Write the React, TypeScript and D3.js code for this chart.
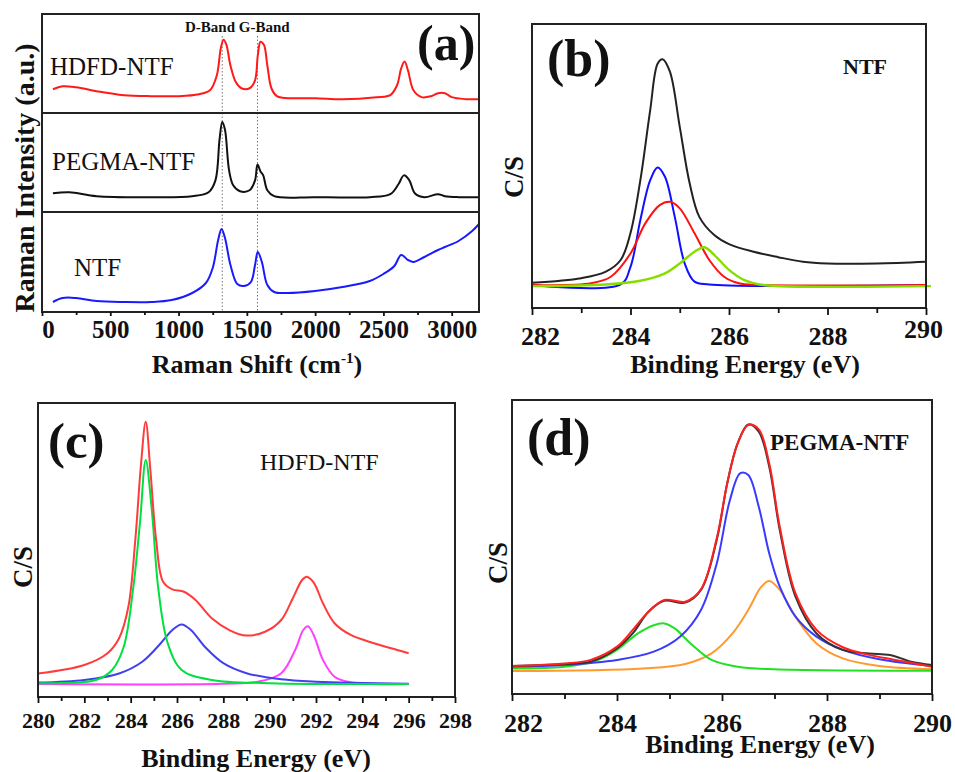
import React, { useEffect, useRef } from 'react';
import * as d3 from 'd3';

type Pt = [number, number];

const W = 955;
const H = 772;
const FONT = '"Liberation Serif", "Times New Roman", Times, serif';

// (a) Raman spectra: [Raman shift cm-1, intensity 0-100 inside its own strip]
const ramanTicks = [0, 500, 1000, 1500, 2000, 2500, 3000];
const ramanMinorTicks = [250, 750, 1250, 1750, 2250, 2750];
const bandLines = [1320, 1578];

const ramanHDFD: Pt[] = [
  [80, 24], [150, 27], [250, 26], [400, 22], [600, 18], [800, 17], [1000, 17], [1150, 19],
  [1230, 23], [1280, 38], [1310, 66], [1330, 74], [1350, 69], [1380, 48], [1420, 31],
  [1460, 25], [1520, 25], [1560, 33], [1580, 58], [1600, 72], [1625, 69], [1650, 48],
  [1680, 25], [1720, 17], [1800, 15], [2000, 15], [2200, 14], [2450, 16], [2550, 18],
  [2600, 28], [2630, 45], [2655, 52], [2680, 43], [2720, 23], [2780, 16], [2850, 17],
  [2900, 20], [2950, 20], [3000, 16], [3100, 14], [3200, 14],
];

const ramanPEGMA: Pt[] = [
  [80, 19], [200, 20], [400, 16], [800, 15], [1100, 16], [1220, 20], [1270, 32], [1300, 73],
  [1320, 91], [1340, 83], [1370, 42], [1400, 27], [1450, 21], [1520, 22], [1560, 32],
  [1578, 48], [1600, 41], [1620, 37], [1650, 22], [1700, 16], [2000, 15], [2400, 15],
  [2550, 18], [2610, 28], [2650, 37], [2690, 32], [2730, 19], [2800, 15], [2900, 18],
  [2950, 16], [3050, 15], [3200, 15],
];

const ramanNTF: Pt[] = [
  [80, 10], [150, 14], [250, 14], [400, 11], [600, 10], [800, 10], [950, 12], [1100, 19],
  [1200, 29], [1250, 44], [1290, 72], [1315, 83], [1340, 74], [1380, 47], [1430, 28],
  [1480, 26], [1530, 30], [1560, 47], [1580, 60], [1610, 50], [1650, 27], [1700, 20],
  [1800, 19], [2000, 21], [2200, 25], [2400, 31], [2500, 38], [2580, 46], [2630, 57],
  [2680, 52], [2720, 50], [2800, 55], [2900, 62], [2950, 65], [3050, 71], [3150, 81],
  [3200, 88],
];

// (b) NTF C1s: [binding energy eV, counts 0-100]
const ntfTicks = [282, 284, 286, 288, 290];
const ntfMinorTicks = [283, 285, 287, 289];

const ntfTotal: Pt[] = [
  [282, 8.9], [283, 10.5], [283.5, 12.8], [283.8, 16.9], [284.0, 26.4], [284.2, 45],
  [284.4, 69.7], [284.55, 86], [284.65, 87.6], [284.8, 83.2], [285.0, 63.8], [285.2, 44],
  [285.4, 32], [285.7, 25.7], [286.0, 22.5], [286.5, 19.8], [287.0, 17.9], [287.5, 16.3],
  [288, 15.7], [289, 15.7], [290, 16.3],
];
const ntfBlue: Pt[] = [
  [282, 8.1], [283.8, 8.3], [284.0, 14.5], [284.2, 31], [284.4, 45], [284.55, 49.5],
  [284.7, 46.2], [284.9, 32], [285.1, 15.7], [285.3, 9.3], [285.6, 8.3], [290, 8.1],
];
const ntfRed: Pt[] = [
  [282, 8.1], [283.2, 8.7], [283.6, 11], [284.0, 19.2], [284.3, 29.8], [284.6, 36.3],
  [284.8, 37.4], [285.0, 35.1], [285.3, 26.3], [285.6, 16.9], [285.9, 11], [286.2, 8.7],
  [286.6, 8.1], [290, 8.1],
];
const ntfGreen: Pt[] = [
  [282, 7.7], [283.5, 8.3], [284.2, 9.6], [284.7, 12.2], [285.0, 15.7], [285.3, 19.8],
  [285.5, 21.4], [285.7, 18.7], [286.0, 13.4], [286.3, 9.9], [286.7, 8.1], [290, 7.7],
  [290.1, 7.7],
];

// (c) HDFD-NTF C1s
const hdfdTicks = [280, 282, 284, 286, 288, 290, 292, 294, 296, 298];
const hdfdMinorTicks = [281, 283, 285, 287, 289, 291, 293, 295, 297];

const hdfdTotal: Pt[] = [
  [280, 8.0], [282, 10.9], [283, 14.9], [283.5, 20], [283.9, 30.7], [284.2, 53.4],
  [284.45, 79.5], [284.65, 93.6], [284.85, 77.2], [285.1, 53.4], [285.4, 39.2],
  [285.8, 36.6], [286.3, 35.8], [286.8, 33], [287.5, 26.8], [288.3, 22.6], [289, 20.9],
  [289.8, 22.2], [290.5, 26.2], [291.0, 33.6], [291.4, 39.8], [291.6, 40.9], [291.9, 38.9],
  [292.3, 31.9], [292.8, 25.1], [293.5, 21.1], [294.5, 18.3], [295.5, 16], [296, 14.9],
];
const hdfdGreen: Pt[] = [
  [280, 4.7], [282.5, 5.8], [283.2, 9.2], [283.7, 17.1], [284.1, 36.4], [284.4, 59.1],
  [284.65, 80.6], [284.9, 64.7], [285.2, 36.4], [285.6, 18.3], [286.2, 9.2], [287.5, 5.8],
  [290, 4.7], [296, 4.4],
];
const hdfdBlue: Pt[] = [
  [280, 4.9], [282, 5.8], [283.5, 8.0], [284.5, 12.0], [285.3, 18.3], [285.8, 22.8],
  [286.2, 24.7], [286.6, 22.8], [287.2, 17.1], [288, 11.5], [289, 8.1], [290.5, 6.0],
  [292, 5.2], [296, 4.5],
];
const hdfdMagenta: Pt[] = [
  [280, 4.4], [288, 4.5], [289.5, 5.2], [290.5, 8.1], [291.1, 16], [291.45, 22.8],
  [291.65, 24.1], [291.9, 21.1], [292.3, 12.6], [292.8, 6.9], [293.5, 5.0], [296, 4.4],
];

// (d) PEGMA-NTF C1s
const pegmaTicks = [282, 284, 286, 288, 290];
const pegmaMinorTicks = [283, 285, 287, 289];

const pegmaData: Pt[] = [
  [282, 9.5], [283, 10.2], [283.5, 11.0], [284.0, 15.5], [284.3, 20.6], [284.6, 28.0],
  [284.9, 31.7], [285.3, 31.1], [285.6, 35.4], [285.9, 52.4], [286.1, 71.7], [286.3, 85.3],
  [286.5, 91.7], [286.7, 89.2], [286.9, 77.3], [287.1, 55.8], [287.4, 33.1], [287.8, 20.6],
  [288.3, 15.0], [288.8, 13.8], [289.2, 13.3], [289.6, 11.0], [290, 9.9],
];
const pegmaFit: Pt[] = [
  [282, 9.5], [283, 10.4], [283.5, 11.6], [284.0, 16.1], [284.3, 21.8], [284.6, 28.0],
  [284.9, 32.0], [285.3, 31.4], [285.6, 35.6], [285.9, 53.0], [286.1, 71.7], [286.3, 85.3],
  [286.5, 91.5], [286.7, 90.0], [286.9, 78.4], [287.1, 56.9], [287.4, 34.2], [287.8, 21.8],
  [288.3, 15.9], [288.8, 13.3], [289.3, 11.6], [290, 9.3],
];
const pegmaBlue: Pt[] = [
  [282, 9.3], [283, 9.9], [284.0, 11.6], [284.7, 14.4], [285.2, 19.5], [285.6, 28.6],
  [285.9, 44.4], [286.15, 65.9], [286.35, 75.1], [286.5, 74.5], [286.7, 63.7], [286.9, 47.8],
  [287.1, 36.5], [287.4, 26.3], [287.8, 19.5], [288.3, 15.0], [289, 11.8], [290, 9.5],
];
const pegmaGreen: Pt[] = [
  [282, 8.7], [283, 9.3], [283.6, 11.3], [284.0, 15.0], [284.4, 20.6], [284.7, 23.4],
  [284.9, 24.0], [285.1, 22.3], [285.4, 17.2], [285.8, 11.6], [286.3, 9.3], [287, 8.4],
  [290, 7.9],
];
const pegmaOrange: Pt[] = [
  [282, 7.8], [284.5, 8.7], [285.3, 10.2], [285.8, 13.8], [286.2, 20.6], [286.5, 28.6],
  [286.75, 36.5], [286.9, 38.4], [287.1, 35.4], [287.4, 26.3], [287.8, 17.2], [288.3, 12.1],
  [289, 9.5], [290, 8.4],
];

type Sel = d3.Selection<SVGGElement, unknown, null, undefined>;

const App = () => {
  const svgRef = useRef<SVGSVGElement>(null);

  useEffect(() => {
    const root = d3.select(svgRef.current);
    root.selectAll('*').remove();
    root.append('rect').attr('width', W).attr('height', H).attr('fill', '#fff');
    const svg: Sel = root.append('g');
    const curve = d3.curveCatmullRom.alpha(0.5);

    const text = (
      g: Sel, s: string, x: number, y: number, size: number,
      opts: { bold?: boolean; anchor?: string; rotate?: boolean } = {}
    ) => {
      const t = g.append('text')
        .attr('font-family', FONT)
        .attr('font-size', size)
        .attr('font-weight', opts.bold ? 'bold' : 'normal')
        .attr('fill', '#111')
        .attr('text-anchor', opts.anchor || 'start');
      if (opts.rotate) t.attr('transform', `translate(${x},${y}) rotate(-90)`);
      else t.attr('x', x).attr('y', y);
      t.text(s);
      return t;
    };

    const bottomAxis = (
      x: d3.ScaleLinear<number, number>, yAxis: number, major: number[], minor: number[],
      majorLen: number, minorLen: number, fs: number, base: number,
      edge: { firstDx?: number; lastDx?: number; lastDy?: number } = {}
    ) => {
      const gMinor = svg.append('g').attr('transform', `translate(0,${yAxis})`)
        .call(d3.axisBottom(x).tickValues(minor).tickSize(minorLen).tickFormat(() => ''));
      const gMajor = svg.append('g').attr('transform', `translate(0,${yAxis})`)
        .call(d3.axisBottom(x).tickValues(major).tickSize(majorLen).tickFormat(d3.format('d')));
      [gMinor, gMajor].forEach((g) => {
        g.select('.domain').remove();
        g.selectAll('line').attr('stroke', '#111').attr('stroke-width', 1.8);
      });
      const n = major.length;
      gMajor.selectAll<SVGTextElement, number>('text')
        .attr('font-family', FONT)
        .attr('font-size', fs)
        .attr('font-weight', 'bold')
        .attr('fill', '#111')
        .attr('dy', null)
        .attr('y', (_d, i) => base - yAxis + (i === n - 1 ? edge.lastDy || 0 : 0))
        .attr('dx', (_d, i) => (i === 0 ? edge.firstDx || 0 : i === n - 1 ? edge.lastDx || 0 : 0));
    };

    const frame = (x0: number, y0: number, x1: number, y1: number) => {
      svg.append('rect')
        .attr('x', x0).attr('y', y0).attr('width', x1 - x0).attr('height', y1 - y0)
        .attr('fill', 'none').attr('stroke', '#222').attr('stroke-width', 2);
    };

    const plot = (
      data: Pt[], x: d3.ScaleLinear<number, number>, y: d3.ScaleLinear<number, number>,
      color: string, width = 2
    ) => {
      svg.append('path')
        .datum(data)
        .attr('fill', 'none')
        .attr('stroke', color)
        .attr('stroke-width', width)
        .attr('stroke-linejoin', 'round')
        .attr('d', d3.line<Pt>().x((d) => x(d[0])).y((d) => y(d[1])).curve(curve));
    };

    // ---------- (a) Raman ----------
    const aL = 42, aR = 479, aT = 14, aB = 312;
    const strips = [aT, 113, 212, aB];
    const xa = d3.scaleLinear().domain([0, 3200]).range([aL, aR]);
    const ramanSeries: [Pt[], string][] = [
      [ramanHDFD, '#ff1a1a'],
      [ramanPEGMA, '#111111'],
      [ramanNTF, '#1a1aff'],
    ];
    bandLines.forEach((b) => {
      svg.append('line')
        .attr('x1', xa(b)).attr('x2', xa(b)).attr('y1', 36).attr('y2', aB)
        .attr('stroke', '#777').attr('stroke-width', 1).attr('stroke-dasharray', '1.5,2');
    });
    ramanSeries.forEach(([data, color], i) => {
      const ys = d3.scaleLinear().domain([0, 100]).range([strips[i + 1], strips[i]]);
      plot(data, xa, ys, color, 2);
    });
    [113, 212].forEach((yy) => {
      svg.append('line').attr('x1', aL).attr('x2', aR).attr('y1', yy).attr('y2', yy)
        .attr('stroke', '#222').attr('stroke-width', 2);
    });
    frame(aL, aT, aR, aB);
    bottomAxis(xa, aB, ramanTicks, ramanMinorTicks, 4, 3, 25, 338, { firstDx: 6 });
    text(svg, 'D-Band G-Band', 185, 32, 15, { bold: true });
    text(svg, 'HDFD-NTF', 50, 75, 25);
    text(svg, 'PEGMA-NTF', 52, 170, 25);
    text(svg, 'NTF', 74, 276, 25);
    text(svg, '(a)', 417, 60, 50, { bold: true });
    text(svg, 'Raman Intensity (a.u.)', 34, 178, 28, { bold: true, anchor: 'middle', rotate: true });
    const xl = text(svg, 'Raman Shift (cm', 257, 373, 26, { bold: true, anchor: 'middle' });
    xl.append('tspan').attr('font-size', 15).attr('dy', -10).text('-1');
    xl.append('tspan').attr('dy', 10).text(')');

    // ---------- (b) NTF ----------
    const bL = 532, bR = 926, bT = 24, bB = 308;
    const xb = d3.scaleLinear().domain([282, 290]).range([bL, bR]);
    const yb = d3.scaleLinear().domain([0, 100]).range([bB, bT]);
    plot(ntfTotal, xb, yb, '#222');
    plot(ntfBlue, xb, yb, '#1010ff');
    plot(ntfRed, xb, yb, '#ff1010');
    plot(ntfGreen, xb, yb, '#88dd00', 2.4);
    frame(bL, bT, bR, bB);
    bottomAxis(xb, bB, ntfTicks, ntfMinorTicks, 7, 5, 26, 345, { firstDx: 8, lastDx: -3, lastDy: -7 });
    text(svg, '(b)', 547, 76, 52, { bold: true });
    text(svg, 'NTF', 843, 74, 22, { bold: true });
    text(svg, 'C/S', 523, 177, 27, { bold: true, anchor: 'middle', rotate: true });
    text(svg, 'Binding Energy (eV)', 745, 373, 26, { bold: true, anchor: 'middle' });

    // ---------- (c) HDFD-NTF ----------
    const cL = 38, cR = 455, cT = 403, cB = 697;
    const xc = d3.scaleLinear().domain([280, 298]).range([cL, cR]);
    const yc = d3.scaleLinear().domain([0, 100]).range([cB, cT]);
    plot(hdfdMagenta, xc, yc, '#ff40ff');
    plot(hdfdBlue, xc, yc, '#4040ee');
    plot(hdfdGreen, xc, yc, '#00e040');
    plot(hdfdTotal, xc, yc, '#ff3b3b');
    frame(cL, cT, cR, cB);
    bottomAxis(xc, cB, hdfdTicks, hdfdMinorTicks, 6, 4, 22, 728);
    text(svg, '(c)', 48, 458, 51, { bold: true });
    text(svg, 'HDFD-NTF', 260, 470, 24);
    text(svg, 'C/S', 32, 567, 27, { bold: true, anchor: 'middle', rotate: true });
    text(svg, 'Binding Energy (eV)', 256, 767, 26, { bold: true, anchor: 'middle' });

    // ---------- (d) PEGMA-NTF ----------
    const dL = 512, dR = 932, dT = 400, dB = 694;
    const xd = d3.scaleLinear().domain([282, 290]).range([dL, dR]);
    const yd = d3.scaleLinear().domain([0, 100]).range([dB, dT]);
    plot(pegmaOrange, xd, yd, '#ff9a30');
    plot(pegmaGreen, xd, yd, '#22e022');
    plot(pegmaBlue, xd, yd, '#3a3aff');
    plot(pegmaData, xd, yd, '#333');
    plot(pegmaFit, xd, yd, '#ff2020');
    frame(dL, dT, dR, dB);
    bottomAxis(xd, dB, pegmaTicks, pegmaMinorTicks, 7, 5, 26, 732, { firstDx: 11 });
    text(svg, '(d)', 527, 455, 52, { bold: true });
    text(svg, 'PEGMA-NTF', 770, 450, 23, { bold: true });
    text(svg, 'C/S', 507, 563, 27, { bold: true, anchor: 'middle', rotate: true });
    text(svg, 'Binding Energy (eV)', 760, 753, 26, { bold: true, anchor: 'middle' });
  }, []);

  return (
    <svg
      ref={svgRef}
      width={W}
      height={H}
      style={{ position: 'absolute', left: 0, top: 0, display: 'block' }}
    />
  );
};

export default App;
